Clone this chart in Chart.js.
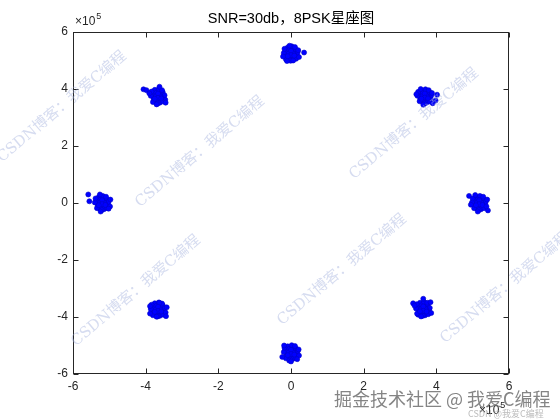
<!DOCTYPE html>
<html><head><meta charset="utf-8">
<script src="https://cdn.jsdelivr.net/npm/chart.js@4/dist/chart.umd.min.js"></script>
<style>html,body{margin:0;padding:0;background:#fff}#wrap{width:560px;height:420px}</style>
</head><body><div id="wrap"><canvas id="c" width="560" height="420"></canvas></div>
<script>
// values in units of 10^5
const titleText = 'SNR=30db，8PSK星座图';
const xTicks = [-6, -4, -2, 0, 2, 4, 6];
const yTicks = [-6, -4, -2, 0, 2, 4, 6];
const exponent = '5';

const clusterE = [[5.18,0.00],[5.10,0.05],[5.25,-0.04],[5.14,-0.10],[5.22,0.12],[5.05,-0.02],[5.30,0.03],[5.17,0.18],[5.20,-0.17],[5.08,0.14],[5.28,-0.12],[5.12,-0.20],[5.24,0.20],[5.02,0.08],[5.34,-0.05],[5.15,0.08],[5.21,0.06],[5.11,-0.05],[5.27,0.09],[5.19,-0.08],[5.06,-0.12],[5.31,0.14],[5.16,-0.14],[5.09,0.21],[5.23,-0.22],[4.98,0.02],[5.36,0.04],[5.13,0.12],[5.26,-0.01],[5.04,-0.18],[5.20,0.25],[5.17,-0.25],[5.32,-0.18],[5.00,0.16],[5.29,0.22],[4.90,0.25],[5.42,-0.26],[5.40,0.12],[5.07,0.28],[5.14,-0.30],[5.23,0.02],[5.12,0.01],[5.18,0.10],[5.18,-0.04],[5.27,-0.07],[5.09,-0.08],[4.95,-0.06],[5.38,-0.12]];
const clusterNE = [[3.68,3.74],[3.60,3.78],[3.75,3.70],[3.64,3.65],[3.72,3.85],[3.55,3.72],[3.80,3.79],[3.67,3.90],[3.70,3.58],[3.58,3.86],[3.78,3.62],[3.62,3.56],[3.74,3.92],[3.52,3.80],[3.84,3.69],[3.65,3.82],[3.71,3.80],[3.61,3.69],[3.77,3.83],[3.69,3.66],[3.56,3.62],[3.81,3.88],[3.66,3.60],[3.59,3.95],[3.73,3.52],[3.48,3.76],[3.86,3.78],[3.63,3.86],[3.76,3.73],[3.54,3.57],[3.70,3.99],[3.67,3.49],[3.82,3.56],[3.50,3.90],[3.79,3.96],[3.45,3.82],[3.98,3.60],[4.02,3.80],[3.57,4.00],[3.64,3.45],[3.73,3.76],[3.62,3.75],[3.68,3.84],[3.68,3.70],[3.77,3.67],[3.59,3.66],[3.90,3.50],[3.88,3.86]];
const clusterN = [[0.00,5.24],[-0.08,5.29],[0.07,5.20],[-0.04,5.14],[0.04,5.36],[-0.13,5.22],[0.12,5.27],[-0.01,5.42],[0.02,5.07],[-0.10,5.38],[0.10,5.12],[-0.06,5.06],[0.06,5.44],[-0.16,5.32],[0.16,5.19],[-0.03,5.32],[0.03,5.30],[-0.07,5.18],[0.09,5.34],[0.01,5.16],[-0.12,5.11],[0.13,5.39],[-0.02,5.10],[-0.09,5.46],[0.05,5.02],[-0.20,5.26],[0.18,5.28],[-0.05,5.37],[0.08,5.23],[-0.14,5.04],[0.02,5.50],[-0.01,4.99],[0.14,5.06],[-0.18,5.41],[0.11,5.47],[0.36,5.28],[-0.22,5.14],[0.22,5.12],[0.06,5.00],[-0.11,4.98],[0.05,5.26],[-0.06,5.25],[0.00,5.34],[0.00,5.19],[0.09,5.17],[-0.09,5.15],[0.20,5.36],[-0.04,5.52]];
const clusterNW = [[-3.66,3.74],[-3.74,3.79],[-3.59,3.70],[-3.70,3.64],[-3.62,3.86],[-3.79,3.72],[-3.54,3.77],[-3.67,3.91],[-3.64,3.57],[-3.76,3.88],[-3.56,3.62],[-3.72,3.55],[-3.60,3.94],[-3.82,3.82],[-3.50,3.69],[-3.69,3.83],[-3.63,3.80],[-3.73,3.68],[-3.57,3.84],[-3.65,3.66],[-3.78,3.61],[-3.53,3.89],[-3.68,3.60],[-3.75,3.97],[-3.61,3.52],[-3.86,3.76],[-3.48,3.78],[-3.71,3.87],[-3.58,3.73],[-3.80,3.54],[-3.64,4.00],[-3.67,3.49],[-3.52,3.56],[-3.84,3.91],[-3.55,3.96],[-4.06,3.99],[-3.46,3.62],[-3.98,3.96],[-3.62,4.08],[-3.70,3.46],[-3.61,3.76],[-3.72,3.75],[-3.66,3.84],[-3.66,3.69],[-3.57,3.67],[-3.75,3.66],[-3.45,3.52],[-3.90,3.85]];
const clusterW = [[-5.20,0.00],[-5.28,0.05],[-5.13,-0.04],[-5.24,-0.10],[-5.16,0.12],[-5.33,-0.02],[-5.08,0.03],[-5.21,0.18],[-5.18,-0.17],[-5.30,0.14],[-5.10,-0.12],[-5.26,-0.20],[-5.14,0.20],[-5.36,0.08],[-5.04,-0.05],[-5.23,0.08],[-5.17,0.06],[-5.27,-0.05],[-5.11,0.09],[-5.19,-0.08],[-5.32,-0.12],[-5.07,0.14],[-5.22,-0.14],[-5.29,0.21],[-5.15,-0.22],[-5.40,0.02],[-5.02,0.04],[-5.25,0.12],[-5.12,-0.01],[-5.34,-0.18],[-5.18,0.25],[-5.21,-0.25],[-5.06,-0.18],[-5.38,0.16],[-5.09,0.22],[-5.58,0.30],[-4.98,-0.12],[-5.55,0.06],[-5.26,0.30],[-5.24,-0.30],[-5.15,0.02],[-5.26,0.01],[-5.20,0.10],[-5.20,-0.04],[-5.11,-0.07],[-5.29,-0.08],[-4.97,0.12],[-5.02,-0.20]];
const clusterSW = [[-3.66,-3.74],[-3.74,-3.69],[-3.59,-3.78],[-3.70,-3.84],[-3.62,-3.62],[-3.79,-3.76],[-3.54,-3.71],[-3.67,-3.58],[-3.64,-3.91],[-3.76,-3.60],[-3.56,-3.86],[-3.72,-3.93],[-3.60,-3.55],[-3.82,-3.66],[-3.50,-3.79],[-3.69,-3.65],[-3.63,-3.68],[-3.73,-3.80],[-3.57,-3.64],[-3.65,-3.82],[-3.78,-3.87],[-3.53,-3.59],[-3.68,-3.88],[-3.75,-3.52],[-3.61,-3.96],[-3.86,-3.72],[-3.48,-3.70],[-3.71,-3.61],[-3.58,-3.75],[-3.80,-3.94],[-3.64,-3.49],[-3.67,-3.98],[-3.52,-3.92],[-3.84,-3.57],[-3.55,-3.53],[-3.88,-3.88],[-3.45,-3.84],[-3.42,-3.66],[-3.62,-3.50],[-3.70,-3.99],[-3.61,-3.72],[-3.72,-3.73],[-3.66,-3.64],[-3.66,-3.79],[-3.57,-3.81],[-3.75,-3.82],[-3.44,-3.97],[-3.88,-3.62]];
const clusterS = [[0.00,-5.25],[-0.08,-5.20],[0.07,-5.29],[-0.04,-5.35],[0.04,-5.13],[-0.13,-5.27],[0.12,-5.22],[-0.01,-5.07],[0.02,-5.42],[-0.10,-5.11],[0.10,-5.37],[-0.06,-5.43],[0.06,-5.05],[-0.16,-5.17],[0.16,-5.30],[-0.03,-5.17],[0.03,-5.19],[-0.07,-5.31],[0.09,-5.15],[0.01,-5.33],[-0.12,-5.38],[0.13,-5.10],[-0.02,-5.39],[-0.09,-5.03],[0.05,-5.47],[-0.20,-5.23],[0.18,-5.21],[-0.05,-5.12],[0.08,-5.26],[-0.14,-5.45],[0.02,-4.99],[-0.01,-5.50],[0.14,-5.43],[-0.18,-5.08],[0.11,-5.02],[-0.24,-5.40],[0.22,-5.35],[0.21,-5.14],[-0.05,-5.53],[0.00,-5.56],[0.05,-5.23],[-0.06,-5.24],[0.00,-5.15],[0.00,-5.30],[0.09,-5.32],[-0.09,-5.34],[-0.19,-5.00],[0.17,-5.48]];
const clusterSE = [[3.64,-3.72],[3.56,-3.67],[3.71,-3.76],[3.60,-3.82],[3.68,-3.60],[3.51,-3.74],[3.76,-3.69],[3.63,-3.56],[3.66,-3.89],[3.54,-3.58],[3.74,-3.84],[3.58,-3.91],[3.70,-3.53],[3.48,-3.64],[3.80,-3.77],[3.61,-3.64],[3.67,-3.66],[3.57,-3.78],[3.73,-3.62],[3.65,-3.80],[3.52,-3.85],[3.77,-3.57],[3.62,-3.86],[3.55,-3.50],[3.69,-3.94],[3.44,-3.70],[3.82,-3.68],[3.59,-3.59],[3.72,-3.73],[3.50,-3.92],[3.66,-3.47],[3.63,-3.96],[3.78,-3.90],[3.46,-3.55],[3.75,-3.50],[3.36,-3.52],[3.84,-3.48],[3.64,-3.36],[3.47,-3.88],[3.58,-3.98],[3.69,-3.71],[3.58,-3.72],[3.64,-3.63],[3.64,-3.78],[3.73,-3.81],[3.55,-3.80],[3.86,-3.86],[3.40,-3.60]];

const clusters = [clusterE, clusterNE, clusterN, clusterNW, clusterW, clusterSW, clusterS, clusterSE];
const points = clusters.flat().map(p => ({x: p[0], y: p[1]}));

const FONT = '"Liberation Sans", Arial, "Noto Sans CJK SC", sans-serif';
const AXIS_COLOR = '#262626';

const decorPlugin = {
  id: 'decor',
  afterDatasetsDraw(chart) {
    const {ctx, chartArea: a, scales} = chart;
    ctx.save();
    ctx.strokeStyle = AXIS_COLOR;
    ctx.lineWidth = 1;
    const L = Math.round(a.left) + 0.5, R = Math.round(a.right) - 0.5;
    const T = Math.round(a.top) + 0.5, B = Math.round(a.bottom) - 0.5;
    ctx.strokeRect(L, T, R - L, B - T);
    const tl = 5;
    ctx.beginPath();
    xTicks.forEach(v => {
      const px = Math.round(scales.x.getPixelForValue(v)) + 0.5;
      ctx.moveTo(px, B); ctx.lineTo(px, B - tl);
      ctx.moveTo(px, T); ctx.lineTo(px, T + tl);
    });
    yTicks.forEach(v => {
      const py = Math.round(scales.y.getPixelForValue(v)) + 0.5;
      ctx.moveTo(L, py); ctx.lineTo(L + tl, py);
      ctx.moveTo(R, py); ctx.lineTo(R - tl, py);
    });
    ctx.stroke();
    ctx.restore();
  },
  afterDraw(chart) {
    const {ctx, chartArea: a} = chart;
    ctx.save();
    // title centred over the plot area
    ctx.fillStyle = '#000';
    ctx.font = '14.5px ' + FONT;
    ctx.textAlign = 'center';
    ctx.textBaseline = 'middle';
    ctx.fillText(titleText, (a.left + a.right) / 2, 19);

    // exponent labels
    const expLabel = (x, y) => {
      ctx.fillStyle = AXIS_COLOR;
      ctx.textBaseline = 'middle';
      ctx.textAlign = 'left';
      ctx.font = '12px ' + FONT;
      ctx.fillText('×10', x, y);
      const w = ctx.measureText('×10').width;
      ctx.font = '9px ' + FONT;
      ctx.fillText(exponent, x + w + 1, y - 5);
    };
    expLabel(a.left + 2, 22);
    expLabel(a.right - 30, 411);

    // watermarks
    const wm = (text, cx, cy) => {
      ctx.save();
      ctx.translate(cx, cy);
      ctx.rotate(-40 * Math.PI / 180);
      ctx.textAlign = 'center';
      ctx.textBaseline = 'middle';
      ctx.font = '15px "DejaVu Serif", "Noto Sans CJK SC", serif';
      ctx.fillStyle = 'rgba(165,178,222,0.45)';
      ctx.fillText(text, 0, 0);
      ctx.restore();
    };
    const wmText = 'CSDN博客：我爱C编程';
    wm(wmText, 62, 107);
    wm(wmText, 200, 152);
    wm(wmText, 136, 291);
    wm(wmText, 414, 124);
    wm(wmText, 342, 270);
    wm(wmText, 505, 288);

    ctx.font = '18px "Noto Sans CJK SC", sans-serif';
    ctx.textAlign = 'left';
    ctx.textBaseline = 'middle';
    ctx.fillStyle = 'rgba(110,110,110,0.85)';
    ctx.fillText('掘金技术社区 @ 我爱C编程', 334, 399);
    ctx.font = '9px "Noto Sans CJK SC", sans-serif';
    ctx.fillStyle = 'rgba(170,170,170,0.8)';
    ctx.fillText('CSDN @我爱C编程', 468, 414);
    ctx.restore();
  }
};

const tickCfg = () => ({
  color: AXIS_COLOR,
  padding: 5,
  maxRotation: 0,
  autoSkip: false,
  font: {family: FONT, size: 12}
});

new Chart(document.getElementById('c'), {
  type: 'scatter',
  data: {
    datasets: [{
      data: points,
      backgroundColor: 'rgb(0,0,255)',
      borderColor: 'rgb(0,0,200)',
      borderWidth: 0.6,
      pointRadius: 2.5,
      pointHoverRadius: 2.5
    }]
  },
  options: {
    responsive: false,
    animation: false,
    layout: {padding: {left: 0, right: 51, top: 32, bottom: 0}},
    plugins: {
      legend: {display: false},
      tooltip: {enabled: false},
      title: {display: false}
    },
    scales: {
      x: {
        type: 'linear', min: -6, max: 6,
        afterBuildTicks: s => { s.ticks = xTicks.map(v => ({value: v})); },
        afterFit: s => { s.height = 46; },
        grid: {display: false, drawTicks: false},
        border: {display: false},
        ticks: tickCfg()
      },
      y: {
        type: 'linear', min: -6, max: 6,
        afterBuildTicks: s => { s.ticks = yTicks.map(v => ({value: v})); },
        afterFit: s => { s.width = 73; },
        grid: {display: false, drawTicks: false},
        border: {display: false},
        ticks: tickCfg()
      }
    }
  },
  plugins: [decorPlugin]
});
</script>
</body></html>
